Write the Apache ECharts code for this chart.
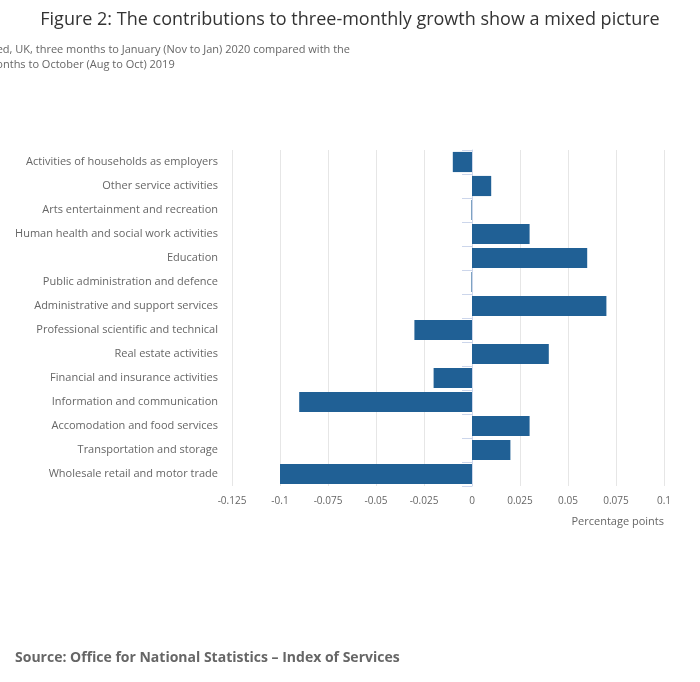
<!DOCTYPE html>
<html>
<head>
<meta charset="utf-8"/>
</head>
<body style="height: 100%; margin: 0; overflow: hidden; background: #fff">
<div id="container" style="width: 700px; height: 682px"></div>
<script src="https://cdn.jsdelivr.net/npm/echarts@6/dist/echarts.min.js"></script>
<script>
var categories = [
    "Activities of households as employers",
    "Other service activities",
    "Arts entertainment and recreation",
    "Human health and social work activities",
    "Education",
    "Public administration and defence",
    "Administrative and support services",
    "Professional scientific and technical",
    "Real estate activities",
    "Financial and insurance activities",
    "Information and communication",
    "Accomodation and food services",
    "Transportation and storage",
    "Wholesale retail and motor trade"
];
var values = [-0.01, 0.01, -0.0003, 0.03, 0.06, -0.0003, 0.07, -0.03, 0.04, -0.02, -0.09, 0.03, 0.02, -0.1];

var chart = echarts.init(document.getElementById("container"), null, {renderer: "canvas"});
var font = "Open Sans";
chart.setOption({
    textStyle: {fontFamily: font},
    title: [
        {
            text: "Figure 2: The contributions to three-monthly growth show a mixed picture",
            left: "center", top: 6,
            textStyle: {fontFamily: font, fontSize: 18, fontWeight: "normal", color: "#333"}
        },
        {
            text: "Contributions to growth, seasonally adjusted, UK, three months to January (Nov to Jan) 2020 compared with the\nthree months to October (Aug to Oct) 2019",
            left: "center", top: 37,
            textAlign: "center",
            textStyle: {fontFamily: font, fontSize: 11, fontWeight: "normal", color: "#666", lineHeight: 15, align: "center"}
        },
        {
            text: "Source: Office for National Statistics \u2013 Index of Services",
            left: 10, top: 646,
            textStyle: {fontFamily: font, fontSize: 14, fontWeight: "bold", color: "#666"}
        }
    ],
    grid: {left: 232, right: 36, top: 150, bottom: 196},
    xAxis: {
        type: "value",
        min: -0.125, max: 0.1, interval: 0.025,
        name: "Percentage points",
        nameLocation: "end",
        nameGap: 0,
        nameTextStyle: {fontSize: 11, color: "#666", align: "right", verticalAlign: "top", padding: [30, 0, 0, 0]},
        axisLabel: {fontSize: 10, color: "#666", margin: 10, formatter: function (v) { return String(+v.toFixed(3)); }},
        axisLine: {show: false},
        axisTick: {show: false},
        splitLine: {lineStyle: {color: "#e6e6e6"}}
    },
    yAxis: {
        type: "category",
        data: categories,
        inverse: true,
        axisLine: {lineStyle: {color: "#ccd6eb"}},
        axisTick: {show: true, length: 10, lineStyle: {color: "#ccd6eb"}},
        axisLabel: {fontSize: 11, color: "#666", margin: 14}
    },
    series: [{
        type: "bar",
        data: values,
        barCategoryGap: "16%",
        itemStyle: {color: "#206095"}
    }]
});
</script>
</body>
</html>
